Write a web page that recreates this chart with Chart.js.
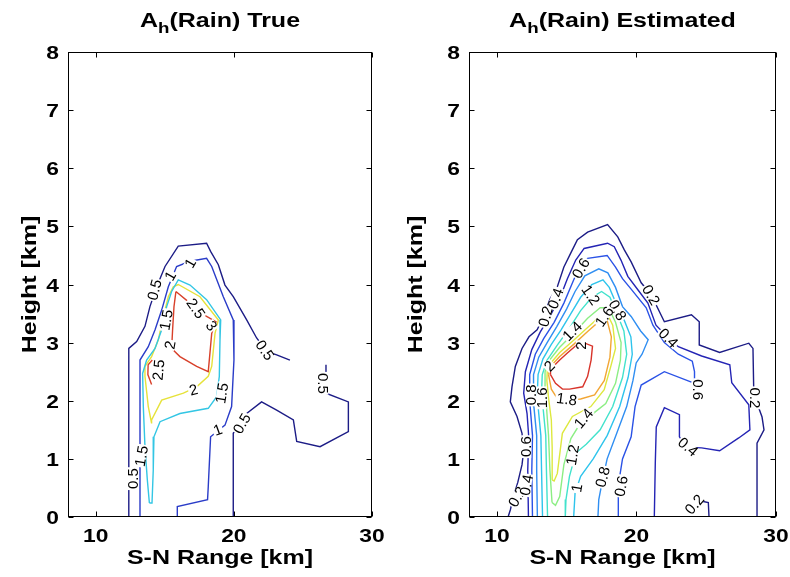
<!DOCTYPE html>
<html lang="en">
<head>
<meta charset="utf-8">
<title>A_h (Rain) True / Estimated</title>
<script src="https://cdn.jsdelivr.net/npm/chart.js@4.4.1/dist/chart.umd.min.js"></script>
<style>
  body { margin: 0; background: #fff; }
  #wrap { position: relative; width: 790px; height: 577px; }
  #wrap canvas { position: absolute; top: 0; }
  #cTrue { left: 0; }
  #cEst { left: 395px; }
</style>
</head>
<body>
<div id="wrap">
  <canvas id="cTrue" width="395" height="577"></canvas>
  <canvas id="cEst" width="395" height="577"></canvas>
</div>
<script>
// axes (km)
var xMin = 8, xMax = 30;
var yMin = 0, yMax = 8;
var xTicks = [10, 20, 30];
var yTicks = [0, 1, 2, 3, 4, 5, 6, 7, 8];

// ---- left panel: A_h(Rain) True, contour lines [range, height]
var true05a = [[12.38,0],[12.4,2.9],[12.97,3.02],[13.57,3.28],[13.93,3.62],[14.42,3.96],[15.02,4.31],[15.98,4.66],[18.03,4.71],[18.32,4.57],[18.88,4.34],[19.36,3.99],[19.96,3.79],[20.93,3.39],[21.65,3.08],[22.38,2.85],[23.1,2.79],[24.06,2.7]];
var true05b = [[19.96,0],[19.96,1.44],[20.93,1.78],[22.01,1.98],[23.1,1.84],[24.31,1.67],[24.55,1.3],[26.24,1.21],[28.29,1.47],[28.29,1.98],[26.67,2.13],[26.67,2.62]];
var true10 = [[13.21,0],[13.21,2.7],[13.81,2.93],[14.3,3.22],[14.78,3.56],[15.26,3.96],[15.86,4.31],[16.83,4.4],[18.03,4.45],[18.4,4.31],[19.24,3.79],[19.96,3.39],[20.01,2.7],[19.84,1.9],[19.36,1.58],[18.32,1.38],[18.15,0.52],[18.1,0.3],[15.91,0.18],[15.91,0]];
var true15 = [[13.89,0.24],[13.74,0.64],[13.57,1.21],[13.45,1.9],[13.4,2.47],[13.69,2.7],[14.3,2.9],[14.78,3.22],[15.14,3.62],[15.5,3.88],[15.98,4.08],[16.83,3.99],[18.03,3.74],[19.05,3.39],[19.0,3.05],[18.95,2.42],[18.76,2.07],[18.15,1.87],[16.1,1.78],[14.66,1.64],[14.22,1.38],[14.17,0.81],[14.08,0.24],[13.89,0.24]];
var true20 = [[14.05,1.61],[13.81,1.9],[13.57,2.42],[13.57,2.59],[14.05,2.76],[14.54,3.05],[14.9,3.45],[15.26,3.79],[15.62,3.96],[15.98,4.0],[17.55,3.79],[18.88,3.39],[18.64,3.16],[18.4,2.59],[18.15,2.42],[17.31,2.24],[16.35,2.13],[14.78,2.01],[14.05,1.67],[14.05,1.61]];
var true25a = [[15.81,3.88],[16.83,3.68],[18.03,3.45],[18.71,3.36],[18.4,3.16],[18.15,2.5],[17.31,2.59],[16.1,2.76],[15.5,2.9],[15.57,3.22],[15.67,3.62],[15.81,3.88]];
var true25b = [[14.05,2.28],[13.78,2.45],[13.8,2.62],[14.1,2.7]];
var trueLines = [[0.5, true05a], [0.5, true05b], [1, true10], [1.5, true15], [2, true20], [2.5, true25a], [2.5, true25b]];

var trueLabelText = ['1', '0.5', '1', '1.5', '2', '2.5', '2.5', '3', '2', '1.5', '1', '0.5', '0.5', '0.5', '0.5', '1.5'];
var trueLabelX = [16.83, 14.25, 15.4, 15.09, 15.38, 14.54, 17.26, 18.4, 17.07, 19.12, 18.83, 20.57, 22.25, 26.48, 12.7, 13.3];
var trueLabelY = [4.37, 3.91, 4.15, 3.39, 2.96, 2.53, 3.59, 3.29, 2.19, 2.13, 1.5, 1.61, 2.87, 2.3, 0.66, 1.05];

// ---- right panel: A_h(Rain) Estimated
var est02a = [[10.8,0],[10.96,0.12],[11.17,0.34],[11.5,0.6],[11.8,0.9],[11.9,1.1],[11.8,1.44],[11.44,1.73],[10.96,1.98],[11.08,2.24],[11.32,2.59],[11.8,2.9],[12.3,3.1],[12.88,3.22],[13.34,3.44],[13.8,3.75],[14.33,3.96],[14.8,4.3],[15.29,4.54],[15.77,4.77],[16.5,4.9],[17.93,5.03],[18.66,4.82],[19.12,4.6],[19.62,4.39],[20.34,4.03],[21.06,3.82],[22.0,3.36],[23.94,3.48],[24.5,3.36],[24.5,2.96],[25.96,2.83],[28.05,2.99],[28.35,2.9],[28.4,2.24],[28.5,2.05],[29.0,1.72],[29.14,1.5],[28.64,1.27],[28.64,0]];
var est02b = [[25.2,0],[25.15,0.25],[24.7,0.27]];
var est04 = [[12.26,0],[12.21,0.81],[12.28,1.38],[12.16,1.78],[11.92,2.13],[12.04,2.5],[12.5,2.88],[13.1,3.18],[13.9,3.5],[14.6,3.82],[15.05,4.1],[15.65,4.42],[16.25,4.62],[17.93,4.71],[18.41,4.65],[18.89,4.42],[19.38,4.14],[20.1,3.91],[20.82,3.68],[21.4,3.3],[22.29,3.08],[23.0,2.93],[24.67,2.77],[26.69,2.62],[26.83,2.31],[28.05,1.93],[28.13,1.5],[27.33,1.36],[25.96,1.14],[24.67,1.19],[23.58,1.2],[23.08,1.38],[23.08,1.76],[22.0,1.88],[21.42,1.55],[21.35,0.93],[21.28,0]];
var est06a = [[12.55,0],[12.5,0.8],[12.55,1.4],[12.4,1.85],[12.3,2.15],[12.35,2.45],[12.75,2.8],[13.35,3.07],[14.1,3.35],[14.8,3.68],[15.4,4.02],[15.9,4.3],[16.5,4.45],[17.9,4.5],[18.5,4.3],[19.0,4.1],[19.62,3.92],[20.7,3.6],[21.18,3.3],[22.0,3.0],[23.0,2.8],[24.0,2.68],[24.16,2.5],[24.16,2.36]];
var est06b = [[18.68,0],[18.7,0.55],[19.0,1.0],[19.62,1.38],[19.9,1.9],[20.34,2.27],[22.0,2.5],[23.94,2.32]];
var est08 = [[12.9,0],[12.85,0.8],[12.85,1.4],[12.65,1.9],[12.6,2.15],[12.65,2.45],[13.0,2.75],[13.6,3.0],[14.3,3.28],[15.0,3.58],[15.6,3.88],[16.3,4.15],[17.3,4.27],[17.95,4.2],[18.5,3.95],[19.0,3.62],[19.62,3.45],[20.3,3.2],[20.84,3.05],[20.4,2.8],[19.98,2.65],[19.75,2.35],[19.3,1.9],[18.6,1.45],[17.9,1.0],[17.57,0.64],[17.3,0.3],[17.24,0]];
var est10 = [[13.27,0],[13.2,0.8],[13.15,1.4],[12.95,1.9],[12.9,2.15],[12.95,2.45],[13.3,2.72],[13.9,2.97],[14.6,3.22],[15.3,3.5],[16.0,3.78],[16.8,4.0],[17.6,4.08],[18.05,3.95],[18.5,3.7],[19.1,3.4],[19.6,3.1],[19.7,2.8],[19.4,2.4],[18.8,1.9],[17.9,1.4],[16.9,1.0],[16.0,0.7],[15.6,0.41],[15.5,0]];
var est12 = [[13.63,0],[13.55,0.8],[13.5,1.4],[13.3,1.9],[13.2,2.15],[13.25,2.45],[13.6,2.7],[14.3,2.95],[15.2,3.25],[16.0,3.55],[16.8,3.78],[17.5,3.88],[18.1,3.78],[18.6,3.5],[19.1,3.2],[19.3,2.8],[19.0,2.4],[18.3,1.9],[17.4,1.5],[16.4,1.25],[15.65,1.1],[15.2,0.7],[14.95,0.3],[14.9,0]];
var est14 = [[13.95,0.25],[13.8,0.8],[13.7,1.4],[13.55,1.9],[13.45,2.2],[13.45,2.5],[13.7,2.68],[14.5,2.92],[15.5,3.16],[16.5,3.42],[17.4,3.6],[18.0,3.6],[18.5,3.35],[18.9,3.0],[18.85,2.7],[18.5,2.3],[17.8,1.95],[17.0,1.8],[16.0,1.62],[15.3,1.35],[14.8,0.9],[14.5,0.35],[14.2,0.2],[13.95,0.25]];
var est16 = [[13.96,0.64],[13.96,1.2],[13.9,1.67],[13.7,2.05],[13.58,2.35],[13.62,2.58],[14.5,2.83],[15.5,3.04],[16.5,3.26],[17.4,3.45],[17.9,3.5],[18.3,3.3],[18.5,2.9],[18.17,2.6],[17.69,2.19],[16.73,1.9],[15.41,1.73],[14.69,1.44],[14.33,0.75],[14.1,0.62],[13.96,0.64]];
var est18 = [[13.7,2.45],[13.72,2.56],[14.5,2.76],[15.5,2.97],[16.5,3.19],[17.4,3.38],[17.9,3.38],[18.2,3.1],[18.1,2.75],[17.7,2.35],[17.0,2.1],[16.0,2.03],[14.93,2.01],[14.3,2.05],[13.9,2.2],[13.7,2.45]];
var est20 = [[13.84,2.45],[13.84,2.54],[14.5,2.7],[15.05,2.82],[16.0,3.02],[16.85,2.94],[16.75,2.7],[16.5,2.42],[16.15,2.24],[15.2,2.2],[14.7,2.2],[14.2,2.3],[13.84,2.45]];
var estLines = [[0.2, est02a], [0.2, est02b], [0.4, est04], [0.6, est06a], [0.6, est06b], [0.8, est08], [1.0, est10], [1.2, est12], [1.4, est14], [1.6, est16], [1.8, est18], [2.0, est20]];

var estLabelText = ['0.2', '0.4', '0.6', '1.2', '0.8', '1.4', '1.6', '2', '0.2', '0.4', '0.6', '0.2', '0.4', '0.2', '1.8', '1.4', '1.2', '1', '0.8', '0.6', '0.2', '0.4', '0.6', '0.8', '1.6', '2'];
var estLabelX = [13.48, 14.2, 16.01, 16.73, 18.65, 15.4, 17.69, 16.01, 21.06, 22.29, 24.43, 28.5, 23.7, 24.15, 15.0, 16.2, 15.41, 15.72, 17.57, 18.9, 11.44, 12.1, 12.1, 12.45, 13.2, 13.75];
var estLabelY = [3.45, 3.76, 4.28, 3.82, 3.56, 3.2, 3.45, 2.95, 3.82, 3.08, 2.19, 2.05, 1.21, 0.22, 2.03, 1.7, 1.07, 0.5, 0.69, 0.53, 0.35, 0.55, 1.21, 2.1, 2.05, 2.6];

// ---- styling (kept apart from the values)
var trueColors = {'0.5': '#1c1c86', '1': '#2a3cc8', '1.5': '#33c6e4', '2': '#e6e23a', '2.5': '#d8402a'};
var estColors = {'0.2': '#1c1c86', '0.4': '#2424b4', '0.6': '#2a52e6', '0.8': '#2f8ef2', '1': '#2ec4ec', '1.2': '#42e2cc', '1.4': '#8cee84', '1.6': '#dde83e', '1.8': '#f2a634', '2': '#d8342a'};
var trueAngles = [-60, -75, -60, -80, -80, -85, 55, 55, -15, -80, -20, -60, 55, 90, -90, -80];
var estAngles = [-75, -70, -60, 55, 60, -45, -55, -90, 60, 45, 90, 90, 40, -50, 8, -50, -80, -80, -75, -80, -60, -80, -90, -90, -90, -45];

var FONT = '"Liberation Sans", Arial, sans-serif';
var STRETCH = 1.25;

function stretchedText(ctx, txt, x, y, font, align, angle, sx) {
  ctx.save();
  ctx.font = font;
  ctx.translate(x, y);
  if (angle) ctx.rotate(angle * Math.PI / 180);
  ctx.scale(sx, 1);
  ctx.textAlign = align;
  ctx.textBaseline = 'alphabetic';
  ctx.fillText(txt, 0, 0);
  ctx.restore();
}

var matlabAxes = {
  id: 'matlabAxes',
  afterDatasetsDraw: function (chart) {
    var cfg = panels[chart.canvas.id];
    var ctx = chart.ctx, a = chart.chartArea;
    var xs = chart.scales.x, ys = chart.scales.y;

    // inline contour labels
    ctx.save();
    ctx.font = '15px ' + FONT;
    ctx.textAlign = 'center';
    ctx.textBaseline = 'middle';
    cfg.text.forEach(function (t, i) {
      var px = xs.getPixelForValue(cfg.lx[i]), py = ys.getPixelForValue(cfg.ly[i]);
      ctx.save();
      ctx.translate(px, py);
      ctx.rotate(cfg.angles[i] * Math.PI / 180);
      var w = ctx.measureText(t).width;
      ctx.fillStyle = '#fff';
      ctx.fillRect(-w / 2 - 1, -5, w + 2, 10);
      ctx.fillStyle = '#000';
      ctx.fillText(t, 0, 1);
      ctx.restore();
    });
    ctx.restore();

    // box with inward ticks
    ctx.save();
    ctx.strokeStyle = '#000';
    ctx.lineWidth = 1;
    var L = Math.round(a.left) + 0.5, R = Math.round(a.right) - 0.5;
    var T = Math.round(a.top) + 0.5, B = Math.round(a.bottom) - 0.5;
    ctx.strokeRect(L, T, R - L, B - T);
    ctx.beginPath();
    xTicks.forEach(function (v) {
      var px = Math.round(xs.getPixelForValue(v)) + 0.5;
      ctx.moveTo(px, B); ctx.lineTo(px, B - 5);
      ctx.moveTo(px, T); ctx.lineTo(px, T + 5);
    });
    yTicks.forEach(function (v) {
      var py = Math.round(ys.getPixelForValue(v)) + 0.5;
      ctx.moveTo(L, py); ctx.lineTo(L + 5, py);
      ctx.moveTo(R, py); ctx.lineTo(R - 5, py);
    });
    ctx.stroke();

    // tick labels
    ctx.fillStyle = '#000';
    var tf = 'bold 19px ' + FONT;
    xTicks.forEach(function (v) {
      stretchedText(ctx, String(v), xs.getPixelForValue(v), 542, tf, 'center', 0, 1.2);
    });
    yTicks.forEach(function (v) {
      stretchedText(ctx, String(v), a.left - 9, ys.getPixelForValue(v) + 7, tf, 'right', 0, 1.2);
    });

    // axis titles
    var af = 'bold 20px ' + FONT;
    stretchedText(ctx, 'S-N Range [km]', (a.left + a.right) / 2, 564, af, 'center', 0, STRETCH);
    stretchedText(ctx, 'Height [km]', a.left - cfg.ytitle, (a.top + a.bottom) / 2, af, 'center', -90, STRETCH);

    // title with subscript h
    var big = 'bold 20px ' + FONT, small = 'bold 15px ' + FONT;
    ctx.font = big;
    var wA = ctx.measureText('A').width * STRETCH;
    var wRest = ctx.measureText(cfg.title).width * STRETCH;
    ctx.font = small;
    var wh = ctx.measureText('h').width * STRETCH;
    var x0 = (a.left + a.right) / 2 - (wA + wh + wRest) / 2;
    stretchedText(ctx, 'A', x0, 27, big, 'left', 0, STRETCH);
    stretchedText(ctx, 'h', x0 + wA, 33, small, 'left', 0, STRETCH);
    stretchedText(ctx, cfg.title, x0 + wA + wh, 27, big, 'left', 0, STRETCH);
    ctx.restore();
  }
};

var panels = {
  cTrue: {text: trueLabelText, lx: trueLabelX, ly: trueLabelY, angles: trueAngles, title: '(Rain) True', ytitle: 32},
  cEst: {text: estLabelText, lx: estLabelX, ly: estLabelY, angles: estAngles, title: '(Rain) Estimated', ytitle: 47}
};

function makeChart(id, lines, colors, pad) {
  var datasets = lines.map(function (l) {
    return {
      data: l[1].map(function (p) { return {x: p[0], y: p[1]}; }),
      borderColor: colors[String(l[0])],
      borderWidth: 1.4,
      showLine: true,
      pointRadius: 0,
      tension: 0,
      fill: false
    };
  });
  return new Chart(document.getElementById(id), {
    type: 'scatter',
    data: {datasets: datasets},
    options: {
      responsive: false,
      animation: false,
      events: [],
      layout: {padding: pad},
      scales: {
        x: {type: 'linear', min: xMin, max: xMax, display: false},
        y: {type: 'linear', min: yMin, max: yMax, display: false}
      },
      plugins: {legend: {display: false}, tooltip: {enabled: false}, title: {display: false}}
    },
    plugins: [matlabAxes]
  });
}

makeChart('cTrue', trueLines, trueColors, {left: 68, top: 52, right: 23, bottom: 60});
makeChart('cEst', estLines, estColors, {left: 74, top: 52, right: 14, bottom: 60});
</script>
</body>
</html>
